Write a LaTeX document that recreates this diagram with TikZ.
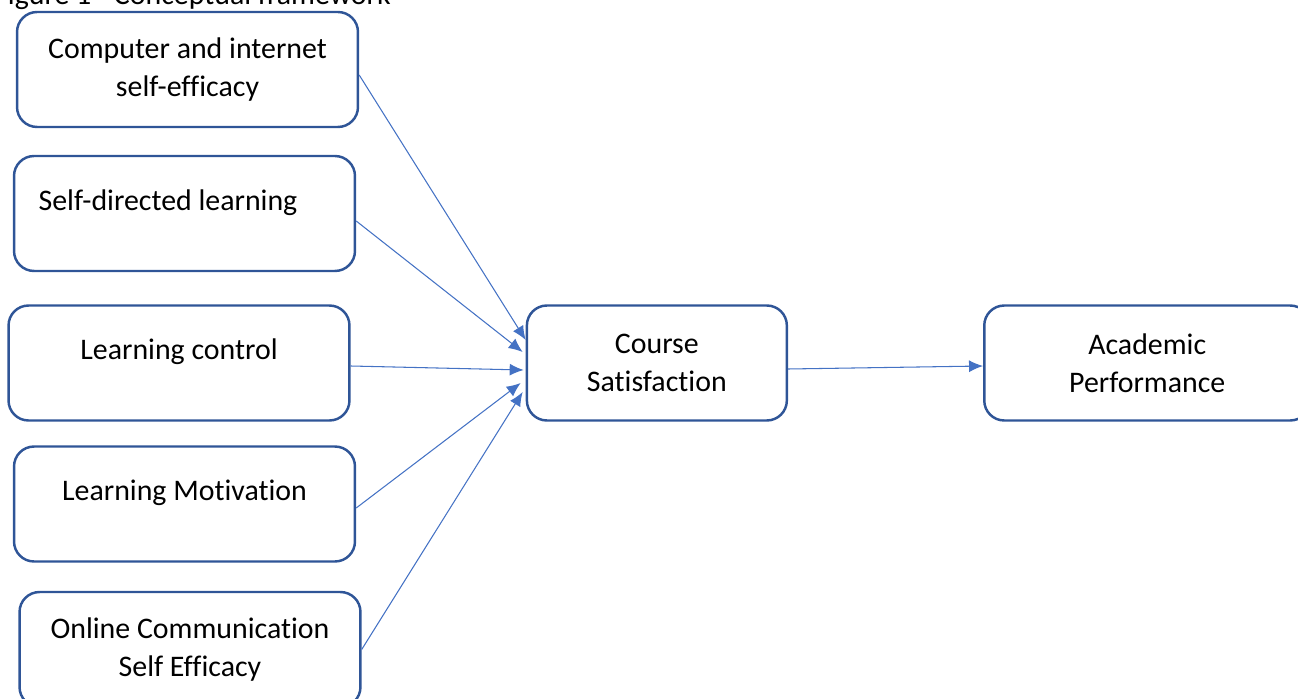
\documentclass[tikz,border=0pt]{standalone}
\usepackage{fontspec}
\setmainfont[Ligatures=NoCommon]{Carlito}
\usepackage{xcolor}
\usetikzlibrary{arrows.meta,positioning}
\definecolor{boxblue}{HTML}{2F5597}
\definecolor{lineblue}{HTML}{4472C4}

\begin{document}
\begin{tikzpicture}[x=0.02cm,y=-0.02cm,font=\fontsize{17}{21.6}\selectfont]
        \tikzset{rblock/.style={draw=boxblue, line width=1.4pt, rectangle, rounded corners=0.4cm, align=center, minimum width=6.82cm, minimum height=2.3cm},
        link/.style={draw=lineblue, line width=0.6pt, -{Latex[length=2.8mm,width=2.4mm]}},
        }
        \clip (0,0) rectangle (1298,699);
        \node [anchor=base west] (caption) at (-12,5) {Figure 1 - Conceptual framework};
        \node [rblock] (comp) at (187.5,69.5) {Computer and internet\\self-efficacy};
        \node [rblock, label={[xshift=-0.33cm,yshift=0.21cm]center:Self-directed learning}] (sdl) at (184.5,213.5) {};
        \node [rblock, label={[yshift=0.22cm]center:Learning control}] (control) at (179,363) {};
        \node [rblock, label={[yshift=0.22cm]center:Learning Motivation}] (motiv) at (184.5,504) {};
        \node [rblock] (online) at (190,649.5) {Online Communication\\Self Efficacy};
        \node [rblock, minimum width=5.2cm, right=3.5cm of control] (course) {Course\\Satisfaction};
        \node [rblock, minimum width=6.52cm, right=3.9cm of course] (perf) {Academic\\Performance};

%% paths
        \path[link] ([yshift=-0.11cm]comp.east) -- ([yshift=0.46cm]course.west);
        \path[link] ([yshift=-0.15cm]sdl.east) -- ([xshift=-0.06cm,yshift=0.22cm]course.west);
        \path[link] ([yshift=-0.06cm]control.east) -- ([xshift=-0.04cm,yshift=-0.14cm]course.west);
        \path[link] ([yshift=-0.08cm]motiv.east) -- ([xshift=-0.1cm,yshift=-0.4cm]course.west);
        \path[link] (online.east) -- ([xshift=-0.06cm,yshift=-0.58cm]course.west);
        \path[link] ([yshift=-0.12cm]course.east) -- ([yshift=-0.06cm]perf.west);
    \end{tikzpicture}
\end{document}
